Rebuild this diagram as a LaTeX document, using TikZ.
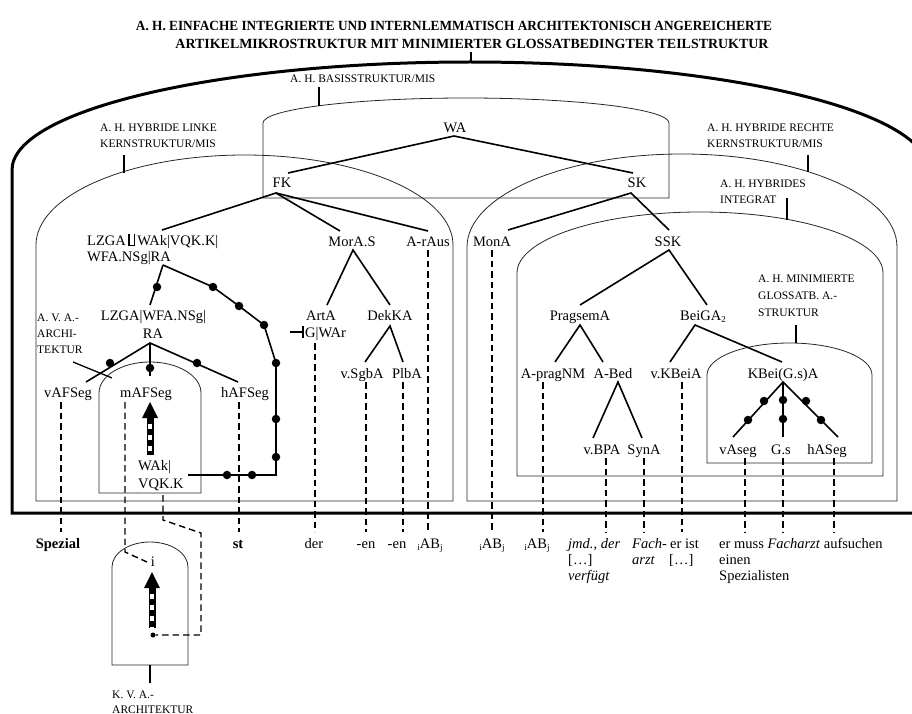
\documentclass[tikz,border=0pt]{standalone}
\usepackage{fontspec}
\setmainfont{Liberation Serif}
\usepackage{graphicx}

% arch = two vertical sides joined by a half-ellipse on top
% #1 style, #2 left x, #3 right x, #4 y where the sides end, #5 top y, #6 bottom y
\newcommand\archbox[6]{%
  \pgfmathsetmacro\archRX{(#3-#2)/2}%
  \pgfmathsetmacro\archRY{#4-#5}%
  \pgfmathsetmacro\archMX{(#2+#3)/2}%
  \draw[#1] (#2,#6) -- (#2,#4)
    .. controls (#2,#4-0.5523*\archRY) and (\archMX-0.5523*\archRX,#5) .. (\archMX,#5)
    .. controls (\archMX+0.5523*\archRX,#5) and (#3,#4-0.5523*\archRY) .. (#3,#4)
    -- (#3,#6) -- cycle;}
\newcommand\lowsub[1]{\raisebox{-2.6pt}{\fontsize{9}{9}\selectfont #1}}
% two upright bars standing on a common base line
\newcommand\dblbar{\kern2.6pt\rlap{\vrule width 6.6pt height -0.3pt depth 1.4pt}%
  \vrule width 1.05pt height 10.8pt depth 1.4pt\kern4.5pt\vrule width 1.05pt height 10.8pt depth 1.4pt\kern2.2pt}

\tikzset{
  txt/.style={font=\fontsize{14.5}{17}\selectfont, inner sep=0pt, anchor=base},
  txtl/.style={txt, anchor=base west},
  capt/.style={font=\fontsize{11.5}{13}\selectfont, inner sep=0pt, anchor=base west},
  titletxt/.style={font=\bfseries\fontsize{14}{14}\selectfont, inner sep=0pt},
  archline/.style={line width=0.8pt, draw=black!85},
  outerline/.style={line width=3pt},
  branch/.style={line width=1.6pt},
  leader/.style={line width=1.3pt},
  dashlink/.style={line width=1.4pt, dash pattern=on 6.5pt off 4pt},
  bullet/.style={circle, fill=black, inner sep=0pt, minimum size=8.5pt},
  smalldot/.style={circle, fill=black, inner sep=0pt, minimum size=5pt},
}

\begin{document}
\begin{tikzpicture}[x=1pt,y=-1pt]
\path[use as bounding box] (0,0) rectangle (912,714);
\clip (0,0) rectangle (912,714);

% ---------- title ----------
\node[titletxt] (title1) at (454,26) {\resizebox{636pt}{\height}{A. H. EINFACHE INTEGRIERTE UND INTERNLEMMATISCH ARCHITEKTONISCH ANGEREICHERTE}};
\node[titletxt] (title2) at (472,44) {\resizebox{593pt}{\height}{ARTIKELMIKROSTRUKTUR MIT MINIMIERTER GLOSSATBEDINGTER TEILSTRUKTUR}};
\coordinate (titleTick) at (471,52);
\coordinate (outerTop) at (471,63);
\draw[leader] (titleTick) -- (outerTop);

% ---------- arches ----------
\archbox{outerline}{12}{928}{170}{62}{513}
\archbox{archline}{263}{669}{123}{98}{198}
\archbox{archline}{36}{453}{245}{155}{501}
\archbox{archline}{467}{897}{247}{154}{501}
\archbox{archline}{517}{883}{273}{212}{476}
\archbox{archline}{707}{872}{375}{343}{463}
\archbox{archline}{99}{201}{393}{362}{493}
\archbox{archline}{112}{188}{567}{542}{665}

% ---------- captions and their leaders ----------
\node[capt] (capB) at (290,83) {A. H. BASISSTRUKTUR/MIS};
\node[capt] (capL1) at (100,132) {A. H. HYBRIDE LINKE};
\node[capt] (capL2) at (100,148) {KERNSTRUKTUR/MIS};
\node[capt] (capR1) at (707,132) {A. H. HYBRIDE RECHTE};
\node[capt] (capR2) at (707,148) {KERNSTRUKTUR/MIS};
\node[capt] (capI1) at (720,187) {A. H. HYBRIDES};
\node[capt] (capI2) at (720,203) {INTEGRAT};
\node[capt] (capM1) at (758,282) {A. H. MINIMIERTE};
\node[capt] (capM2) at (758,299) {GLOSSATB. A.-};
\node[capt] (capM3) at (758,316) {STRUKTUR};
\node[capt] (capV1) at (37,321) {A. V. A.-};
\node[capt] (capV2) at (37,337) {ARCHI-};
\node[capt] (capV3) at (37,353) {TEKTUR};
\node[capt] (capK1) at (112,698) {K. V. A.-};
\node[capt] (capK2) at (112,713) {ARCHITEKTUR};

\coordinate (tBa) at (319,87);  \coordinate (tBb) at (319,106);
\coordinate (tLa) at (124,155); \coordinate (tLb) at (124,173);
\coordinate (tRa) at (808,155); \coordinate (tRb) at (808,172);
\coordinate (tIa) at (787,198); \coordinate (tIb) at (787,220);
\coordinate (tMa) at (796,325); \coordinate (tMb) at (796,343);
\coordinate (tVa) at (73,362);  \coordinate (tVb) at (112,378);
\coordinate (tKa) at (150,665); \coordinate (tKb) at (150,683);
\foreach \a/\b in {tBa/tBb,tLa/tLb,tRa/tRb,tIa/tIb,tMa/tMb,tVa/tVb,tKa/tKb}
  \draw[leader] (\a) -- (\b);

% ---------- node labels ----------
\node[txt] (WA) at (455,133) {WA};
\node[txt] (FK) at (282,188) {FK};
\node[txt] (SK) at (637,188) {SK};
\node[txt] (MorAS) at (352,246) {MorA.S};
\node[txt] (ArAus) at (428,246) {A-rAus};
\node[txt] (MonA) at (492,246) {MonA};
\node[txt] (SSK) at (668,246) {SSK};
\node[txtl] (ul1) at (87,245) {LZGA\dblbar WAk|VQK.K|};
\node[txtl] (ul2) at (87,261) {WFA.NSg|RA};
\node[txt] (lz1) at (153.5,320) {LZGA|WFA.NSg|};
\node[txt] (lz2) at (153,338) {RA};
\node[txt] (ArtA) at (321,320) {ArtA};
\node[txtl] (GWAr) at (305,337) {G|WAr};
\node[txt] (DekKA) at (390,320) {DekKA};
\node[txt] (vSgbA) at (362,378) {v.SgbA};
\node[txt] (PlbA) at (407,378) {PlbA};
\node[txt] (vAFSeg) at (68,397) {vAFSeg};
\node[txt] (mAFSeg) at (146,397) {mAFSeg};
\node[txt] (hAFSeg) at (245,397) {hAFSeg};
\node[txtl] (wak1) at (138,470) {WAk|};
\node[txtl] (wak2) at (138,488) {VQK.K};
\node[txt] (PragsemA) at (580,320) {PragsemA};
\node[txt] (BeiGA) at (703,320) {BeiGA\lowsub{2}};
\node[txt] (ApragNM) at (553,378) {A-pragNM};
\node[txt] (ABed) at (613,378) {A-Bed};
\node[txt] (vKBeiA) at (676,378) {v.KBeiA};
\node[txt] (KBei) at (783,378) {KBei(G.s)A};
\node[txt] (vBPA) at (602,454) {v.BPA};
\node[txt] (SynA) at (644,454) {SynA};
\node[txt] (vAseg) at (738,454) {vAseg};
\node[txt] (Gs) at (781,454) {G.s};
\node[txt] (hASeg) at (827,454) {hASeg};
\node[txt] (iLbl) at (153,566) {i};

% bottom line of text
\node[txt] (wSpezial) at (58,548) {\bfseries Spezial};
\node[txt] (wst) at (238,548) {\bfseries st};
\node[txt] (wder) at (314,548) {der};
\node[txt] (wen1) at (366,548) {-en};
\node[txt] (wen2) at (397,548) {-en};
\node[txt] (wAB1) at (430,548) {\lowsub{i}AB\lowsub{j}};
\node[txt] (wAB2) at (492,548) {\lowsub{i}AB\lowsub{j}};
\node[txt] (wAB3) at (537,548) {\lowsub{i}AB\lowsub{j}};
\node[txtl] (jmd1) at (568,548) {\textit{jmd., der}};
\node[txtl] (jmd2) at (568,564) {[…]};
\node[txtl] (jmd3) at (568,580) {\textit{verfügt}};
\node[txtl] (fach1) at (632,548) {\textit{Fach-}};
\node[txtl] (fach2) at (632,564) {\textit{arzt}};
\node[txtl] (erist1) at (670,548) {er ist};
\node[txtl] (erist2) at (669,564) {[…]};
\node[txtl] (muss1) at (719,548) {er muss \textit{Facharzt} aufsuchen};
\node[txtl] (muss2) at (719,564) {einen};
\node[txtl] (muss3) at (719,580) {Spezialisten};

% ---------- tree connectors ----------
\coordinate (waB) at (454,136);
\coordinate (fkT) at (288,173);  \coordinate (skT) at (633,173);
\coordinate (fkB) at (276,193);
\coordinate (ulT) at (162,230);  \coordinate (morT) at (340,231); \coordinate (rausT) at (428,231);
\coordinate (skB) at (631,193);
\coordinate (monT) at (508,230); \coordinate (sskT) at (669,230);
\coordinate (morB) at (353,250);
\coordinate (artT) at (327,305); \coordinate (dekT) at (390,305);
\coordinate (dekB) at (390,326);
\coordinate (sgbT) at (365,362); \coordinate (plbT) at (403,362);
\coordinate (sskB) at (669,250);
\coordinate (pragT) at (580,305); \coordinate (beiT) at (707,305);
\coordinate (pragB) at (580,325);
\coordinate (apragT) at (555,362); \coordinate (abedT) at (603,362);
\coordinate (abedB) at (618,382);
\coordinate (bpaT) at (593,438); \coordinate (synT) at (642,438);
\coordinate (beiB) at (695,325);
\coordinate (kbeiaT) at (670,362); \coordinate (kbeiT) at (782,362);
\coordinate (kbB) at (783,382);
\coordinate (vasT) at (733,437); \coordinate (gsT) at (783,437); \coordinate (hasT) at (838,437);
\coordinate (ulB) at (163,265);
\coordinate (lzT) at (150,305);
\coordinate (raB) at (150,343);
\coordinate (vafT) at (86,382); \coordinate (mafT) at (150,376); \coordinate (hafT) at (238,382);
\coordinate (chainEnd) at (188,475);

\draw[branch] (fkT) -- (waB) -- (skT);
\draw[branch] (ulT) -- (fkB) -- (morT);
\draw[branch] (fkB) -- (rausT);
\draw[branch] (monT) -- (skB) -- (sskT);
\draw[branch] (artT) -- (morB) -- (dekT);
\draw[branch] (sgbT) -- (dekB) -- (plbT);
\draw[branch] (pragT) -- (sskB) -- (beiT);
\draw[branch] (apragT) -- (pragB) -- (abedT);
\draw[branch] (bpaT) -- (abedB) -- (synT);
\draw[branch] (kbeiaT) -- (beiB) -- (kbeiT);
\draw[branch] (vasT) -- (kbB) -- (hasT);
\draw[branch] (kbB) -- (gsT);
\draw[branch] (ulB) -- (lzT);
\draw[branch] (vafT) -- (raB) -- (hafT);
\draw[branch] (raB) -- (mafT);

% bullets on the branches
\node[bullet] (bUl) at (157,287) {};
\node[bullet] (c1) at (213,287) {};
\node[bullet] (c2) at (239,306) {};
\node[bullet] (c3) at (264,325) {};
\node[bullet] (c4) at (276,363) {};
\node[bullet] (c5) at (276,419) {};
\node[bullet] (c6) at (276,457) {};
\coordinate (cCorner) at (276,475);
\node[bullet] (c7) at (252,475) {};
\node[bullet] (c8) at (227,475) {};
\draw[branch] (ulB) -- (c1.center) -- (c2.center) -- (c3.center) -- (c4.center)
  -- (c5.center) -- (c6.center) -- (cCorner) -- (c7.center) -- (c8.center) -- (chainEnd);
\node[bullet] (bV) at (110,363) {};
\node[bullet] (bM) at (150,368) {};
\node[bullet] (bH) at (197,363) {};
\node[bullet] (k1) at (764,401) {};
\node[bullet] (k2) at (748,420) {};
\node[bullet] (k3) at (783,400) {};
\node[bullet] (k4) at (783,419) {};
\node[bullet] (k5) at (806,401) {};
\node[bullet] (k6) at (821,420) {};

% G|WAr prefix mark
\coordinate (gwA) at (290,332); \coordinate (gwB) at (303,332);
\draw[line width=1.2pt] (gwA) -- (gwB);
\draw[line width=1.1pt] ([yshift=-6pt]gwB) -- ([yshift=6pt]gwB);

% ---------- dashed links to the word forms ----------
\foreach \x/\ya in {61/402, 239/402, 315/343, 366/382, 403/382, 428/250, 492/250,
                    543/382, 682/382, 606/458, 644/458, 745/458, 783/458, 834/458}
  \draw[dashlink] (\x,\ya) -- (\x,532);
\coordinate (mDashTop) at (125,402);
\coordinate (mDashBend) at (125,552);
\coordinate (iIn) at (147,562);
\draw[dashlink] (mDashTop) -- (mDashBend) -- (iIn);
\coordinate (wBoxOut) at (163,495);
\coordinate (wBend1) at (163,520);
\coordinate (wBend2) at (201,533);
\coordinate (wBend3) at (201,635);
\node[smalldot] (kDot) at (153,635) {};
\draw[dashlink] (wBoxOut) -- (wBend1) -- (wBend2) -- (wBend3) -- (kDot);

% ---------- striped arrows ----------
\coordinate (mTip) at (150,402); \coordinate (mNeck) at (150,418); \coordinate (mTail) at (150,455);
\draw[line width=7pt] (mTail) -- (mNeck);
\draw[white, line width=4.4pt, dash pattern=on 5.5pt off 5.5pt, dash phase=5.5pt] (mNeck) -- ([yshift=-1pt]mTail);
\fill (mTip) -- ([xshift=8pt]mNeck) -- ([xshift=-8pt]mNeck) -- cycle;

\coordinate (kTip) at (152,572); \coordinate (kNeck) at (152,588); \coordinate (kTail) at (152,628);
\draw[line width=7pt] (kTail) -- (kNeck);
\draw[white, line width=4.4pt, dash pattern=on 5.5pt off 5.5pt, dash phase=5.5pt] (kNeck) -- ([yshift=-1pt]kTail);
\fill (kTip) -- ([xshift=8pt]kNeck) -- ([xshift=-8pt]kNeck) -- cycle;

\end{tikzpicture}
\end{document}
